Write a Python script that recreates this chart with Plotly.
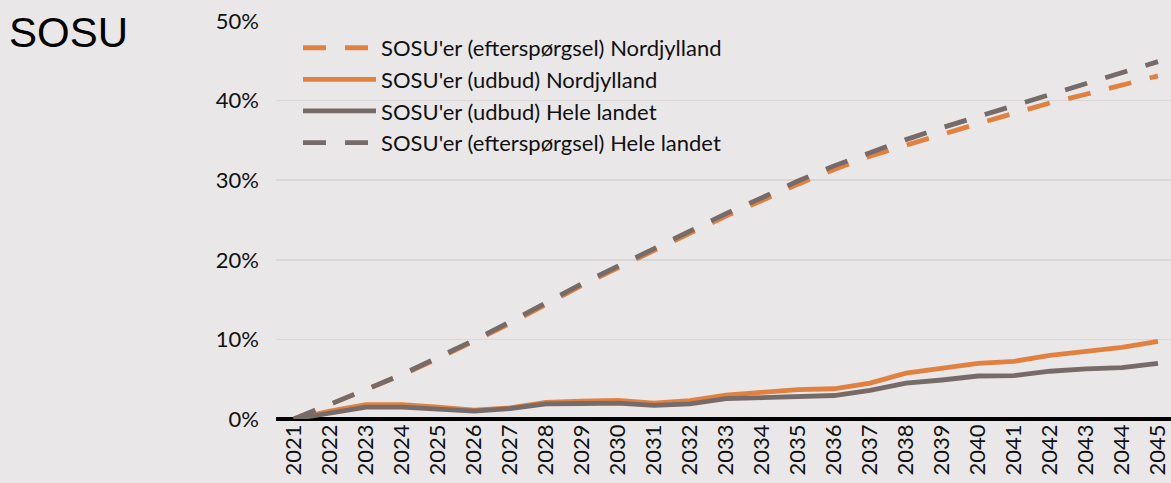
import plotly.graph_objects as go

years = list(range(2021, 2046))

demand_nord = [0, 1.8, 3.65, 5.55, 7.6, 9.8, 12.0, 14.4, 16.8, 19.0, 21.15, 23.3, 25.5,
               27.45, 29.5, 31.35, 33.0, 34.4, 35.8, 37.1, 38.4, 39.7, 40.8, 41.9, 43.1]
supply_nord = [0, 1.0, 1.8, 1.8, 1.5, 1.1, 1.4, 2.1, 2.25, 2.35, 2.0, 2.3, 3.0,
               3.3, 3.7, 3.8, 4.5, 5.75, 6.3, 7.0, 7.25, 8.0, 8.5, 9.0, 9.75]
supply_all = [0, 0.8, 1.5, 1.5, 1.3, 1.0, 1.3, 1.9, 1.95, 2.0, 1.7, 1.9, 2.55,
              2.7, 2.95, 2.95, 3.6, 4.5, 4.9, 5.4, 5.45, 6.0, 6.3, 6.45, 7.0]
demand_all = [0, 1.8, 3.7, 5.6, 7.7, 9.9, 12.2, 14.6, 17.0, 19.2, 21.4, 23.6, 25.8,
              27.8, 29.9, 31.8, 33.5, 35.1, 36.6, 38.0, 39.4, 40.8, 42.1, 43.5, 44.9]

names = ["SOSU'er (efterspørgsel) Nordjylland", "SOSU'er (udbud) Nordjylland",
         "SOSU'er (udbud) Hele landet", "SOSU'er (efterspørgsel) Hele landet"]
y_ticks = [0, 10, 20, 30, 40, 50]
y_tick_labels = ["0%", "10%", "20%", "30%", "40%", "50%"]

ORANGE = "#E2813F"
GREY = "#766B69"
BG = "#E9E7E8"
DASH = "23px,19px"

series = [
    (demand_nord, names[0], ORANGE, DASH),
    (supply_nord, names[1], ORANGE, "solid"),
    (supply_all, names[2], GREY, "solid"),
    (demand_all, names[3], GREY, DASH),
]

fig = go.Figure()
for i, (vals, name, color, dash) in enumerate(series):
    fig.add_trace(go.Scatter(
        x=years, y=vals, name=name, mode="lines",
        legendgroup=f"g{i}",
        line=dict(color=color, width=4.8, dash=dash),
    ))

plot_left = 276
plot_w = 1171 - plot_left
step = 36.0
x_range = [2020.5, 2020.5 + plot_w / step]

fig.update_layout(
    width=1171, height=483,
    margin=dict(l=plot_left, r=0, t=21, b=64, autoexpand=False),
    paper_bgcolor=BG, plot_bgcolor=BG,
    font=dict(family="Lato, Liberation Sans, sans-serif", size=22, color="#111111"),
    showlegend=True,
    legend=dict(
        x=(298 - plot_left) / plot_w, y=0.985, xanchor="left", yanchor="top",
        bgcolor="rgba(0,0,0,0)", borderwidth=0,
        font=dict(family="Lato, sans-serif", size=22, color="#111111"),
        tracegroupgap=0, itemwidth=73,
    ),
    title=dict(
        text="SOSU", x=9 / 1171, xref="container", xanchor="left",
        y=1 - 32 / 483, yref="container", yanchor="middle",
        font=dict(family="Liberation Sans, Arial, sans-serif", size=42, color="#000000"),
    ),
    xaxis=dict(
        range=x_range, tickmode="array", tickvals=years,
        ticktext=[str(y) for y in years], tickangle=-90,
        showgrid=False, zeroline=False, showline=False, ticks="",
        tickfont=dict(family="Lato, sans-serif", size=22, color="#111111"),
        fixedrange=True,
    ),
    yaxis=dict(
        range=[0, 50], tickmode="array", tickvals=y_ticks, ticktext=y_tick_labels,
        showgrid=True, gridcolor="#D8D6D7", gridwidth=1.5,
        zeroline=True, zerolinecolor="#000000", zerolinewidth=3.5,
        showline=False, ticks="", ticklabelstandoff=16,
        tickfont=dict(family="Lato, sans-serif", size=22, color="#111111"),
        fixedrange=True,
    ),
)

fig.write_html(
    "out.html",
    config={"displayModeBar": False, "staticPlot": True},
    post_script="document.body.style.margin='0';document.body.style.background='%s';" % BG,
)
